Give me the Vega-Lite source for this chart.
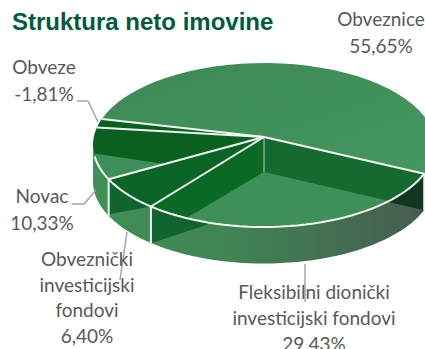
{
"$schema":"https://vega.github.io/schema/vega-lite/v6.json",
"width":425,"height":349,"padding":0,"autosize":"none","background":"white",
"title":{"text":"Struktura neto imovine","anchor":"start","frame":"group","orient":"top","dx":12,"dy":35,"offset":0,"font":"Liberation Sans","fontSize":24,"fontWeight":"bold","color":"#005c3c"},
"config":{"view":{"stroke":null}},
"data":{"values":[
{"slice":"Fleksibilni dionički investicijski fondovi","key":"F","share":29.43,"label":"Fleksibilni dionički\ninvesticijski fondovi\n29,43%"},
{"slice":"Obveznički investicijski fondovi","key":"O","share":6.40,"label":"Obveznički\ninvesticijski\nfondovi\n6,40%"},
{"slice":"Novac","key":"N","share":10.33,"label":"Novac\n10,33%"},
{"slice":"Obveze","key":"L","share":-1.81,"label":"Obveze\n-1,81%"},
{"slice":"Obveznice","key":"B","share":55.65,"label":"Obveznice\n55,65%"}
]},
"transform":[
{"calculate":"abs(datum.share)","as":"size"},
{"joinaggregate":[{"op":"sum","field":"size","as":"total"}]},
{"window":[{"op":"sum","field":"size","as":"cum"}]},
{"calculate":"20+360*(datum.cum-datum.size)/datum.total","as":"phiA"},
{"calculate":"20+360*datum.cum/datum.total","as":"phiB"},
{"calculate":"datum.phiA+6-5.9*cos(datum.phiA*PI/180)","as":"tA"},
{"calculate":"datum.phiB+6-5.9*cos(datum.phiB*PI/180)","as":"tB"},
{"calculate":"sequence(-1,42)","as":"i"},
{"flatten":["i"]},
{"calculate":"datum.tA+(datum.tB-datum.tA)*clamp(datum.i,0,40)/40","as":"tv"},
{"calculate":"datum.i<0||datum.i>40?264:264+171*cos(datum.tv*PI/180)","as":"px"},
{"calculate":"datum.i<0||datum.i>40?137:145+82*sin(datum.tv*PI/180)","as":"py"},
{"calculate":"datum.py+36.5","as":"py2"}
],
"encoding":{
"x":{"field":"px","type":"quantitative","axis":null,"scale":{"domain":[0,425],"nice":false,"zero":false}},
"y":{"field":"py","type":"quantitative","axis":null,"scale":{"domain":[349,0],"nice":false,"zero":false}}
},
"layer":[
{"transform":[{"filter":"datum.key!='B'&&datum.key!='L'&&datum.i>=0&&datum.i<=40&&datum.tv<=180"}],
 "mark":{"type":"area","clip":true,"fill":{"gradient":"linear","x1":0,"x2":1,"y1":0,"y2":0,"stops":[{"offset":0,"color":"#3f8f58"},{"offset":0.4,"color":"#3f8555"},{"offset":1,"color":"#465c4f"}]}},
 "encoding":{"y2":{"field":"py2"}}},
{"transform":[{"filter":"datum.key=='F'&&datum.i<=0"}],
 "mark":{"type":"area","clip":true,"fill":"#10371f"},
 "encoding":{"y2":{"field":"py2"}}},
{"transform":[{"filter":"datum.key=='O'&&datum.i>=0&&datum.i<=40"},{"calculate":"214+(datum.px-110)*(-7/38)","as":"dy2"}],
 "mark":{"type":"area","clip":true,"fill":"#0f6430"},"encoding":{"y2":{"field":"dy2"}}},
{"transform":[{"filter":"datum.key=='F'&&datum.i>=0&&datum.i<=40&&datum.px<=215"},{"calculate":"243+(datum.px-152)*(-21/63)","as":"dy2"}],
 "mark":{"type":"area","clip":true,"fill":"#0f6430"},"encoding":{"y2":{"field":"dy2"}}},
{"transform":[{"filter":"datum.key=='B'"}],"mark":{"type":"line","clip":true,"strokeWidth":0,"fill":{"gradient":"linear","x1":0,"x2":1,"y1":0,"y2":1,"stops":[{"offset":0,"color":"#3b8a56"},{"offset":1,"color":"#46965f"}]}},"encoding":{"order":{"field":"i"}}},
{"transform":[{"filter":"datum.key=='F'"}],"mark":{"type":"line","clip":true,"strokeWidth":0,"fill":"#146a2f"},"encoding":{"order":{"field":"i"}}},
{"transform":[{"filter":"datum.key=='O'"}],"mark":{"type":"line","clip":true,"strokeWidth":0,"fill":"#0a6426"},"encoding":{"order":{"field":"i"}}},
{"transform":[{"filter":"datum.key=='N'||datum.key=='L'"}],"mark":{"type":"line","clip":true,"strokeWidth":0,"fill":"#09601f"},"encoding":{"order":{"field":"i"},"detail":{"field":"key"}}},
{"transform":[{"filter":"datum.key=='F'"},
 {"calculate":"(117+(datum.tB-117)*clamp(datum.i,0,40)/40)*PI/180","as":"tf"},
 {"calculate":"datum.i<0||datum.i>40?264:264+171*cos(datum.tf)","as":"fx"},
 {"calculate":"datum.i<0?172:datum.i>40?137:145+82*sin(datum.tf)","as":"fy"}],
 "mark":{"type":"line","clip":true,"strokeWidth":0,"fill":"#0a6a25"},
 "encoding":{"x":{"field":"fx","type":"quantitative"},"y":{"field":"fy","type":"quantitative"},"order":{"field":"i"}}},
{"transform":[{"filter":"datum.key=='F'"},
 {"calculate":"(43+(117-43)*clamp(datum.i,0,40)/40)*PI/180","as":"tf"},
 {"calculate":"datum.i<0||datum.i>40?264:264+171*cos(datum.tf)","as":"fx"},
 {"calculate":"datum.i<0||datum.i>40?172:145+82*sin(datum.tf)","as":"fy"}],
 "mark":{"type":"line","clip":true,"strokeWidth":0,"fill":"#3f9058"},
 "encoding":{"x":{"field":"fx","type":"quantitative"},"y":{"field":"fy","type":"quantitative"},"order":{"field":"i"}}},
{"transform":[{"filter":"datum.key=='N'"},
 {"calculate":"(155+(174-155)*clamp(datum.i,0,40)/40)*PI/180","as":"tf"},
 {"calculate":"datum.i<0||datum.i>40?165:264+171*cos(datum.tf)","as":"fx"},
 {"calculate":"datum.i<0||datum.i>40?164:145+82*sin(datum.tf)","as":"fy"}],
 "mark":{"type":"line","clip":true,"strokeWidth":0,"fill":"#3f9058"},
 "encoding":{"x":{"field":"fx","type":"quantitative"},"y":{"field":"fy","type":"quantitative"},"order":{"field":"i"}}},
{"transform":[{"filter":"datum.key=='F'&&datum.i==0"}],"mark":{"type":"rule","stroke":"#b9d2bf","strokeWidth":1},"encoding":{"x":{"datum":264},"y":{"datum":137},"y2":{"datum":172}}},
{"transform":[{"filter":"datum.i>=-1&&datum.i<=0"}],"mark":{"type":"line","clip":true,"stroke":"#f4f8f4","strokeWidth":2},"encoding":{"detail":{"field":"key"},"order":{"field":"i"}}},
{"transform":[{"filter":"datum.key!='B'&&datum.key!='L'&&datum.i>=0&&datum.i<=40&&datum.tv<=172"}],"mark":{"type":"line","clip":true,"stroke":"#f4f8f4","strokeWidth":2},"encoding":{"order":{"field":"tv"}}},
{"transform":[{"filter":"datum.key!='B'&&datum.key!='L'&&datum.i==0"}],"mark":{"type":"rule","clip":true,"stroke":"#f0f4f0","strokeWidth":2},"encoding":{"y2":{"field":"py2"}}},
{"transform":[{"filter":"datum.key=='B'&&datum.i==0"}],"mark":{"type":"rule","stroke":"#a6a6a6","strokeWidth":1.5},"encoding":{"x":{"datum":77},"y":{"datum":101},"x2":{"datum":88},"y2":{"datum":101}}},
{"transform":[{"filter":"datum.key=='B'&&datum.i==0"}],"mark":{"type":"rule","stroke":"#a6a6a6","strokeWidth":1.5},"encoding":{"x":{"datum":88},"y":{"datum":101},"x2":{"datum":98},"y2":{"datum":122}}},
{"transform":[{"filter":"datum.key=='B'&&datum.i==0"}],"mark":{"type":"rule","stroke":"#a6a6a6","strokeWidth":1.5},"encoding":{"x":{"datum":72},"y":{"datum":204},"x2":{"datum":84},"y2":{"datum":204}}},
{"transform":[{"filter":"datum.key=='B'&&datum.i==0"}],"mark":{"type":"rule","stroke":"#a6a6a6","strokeWidth":1.5},"encoding":{"x":{"datum":84},"y":{"datum":204},"x2":{"datum":96},"y2":{"datum":190}}},
{"transform":[{"filter":"datum.key=='B'&&datum.i==0"}],"mark":{"type":"rule","stroke":"#a6a6a6","strokeWidth":1.5},"encoding":{"x":{"datum":127},"y":{"datum":232},"x2":{"datum":120},"y2":{"datum":280}}},
{"transform":[{"filter":"datum.key=='B'&&datum.i==0"}],"mark":{"type":"rule","stroke":"#a6a6a6","strokeWidth":1.5},"encoding":{"x":{"datum":305},"y":{"datum":264},"x2":{"datum":305},"y2":{"datum":302}}},
{"transform":[{"filter":"datum.key=='B'&&datum.i==0"}],"mark":{"type":"text","font":"Lato","fontSize":19,"color":"#595959","lineBreak":"\n","lineHeight":26.5,"baseline":"middle"},"encoding":{"text":{"field":"label"},"x":{"datum":381},"y":{"datum":20}}},
{"transform":[{"filter":"datum.key=='L'&&datum.i==0"}],"mark":{"type":"text","font":"Lato","fontSize":19,"color":"#595959","lineBreak":"\n","lineHeight":26.5,"baseline":"middle"},"encoding":{"text":{"field":"label"},"x":{"datum":44},"y":{"datum":68}}},
{"transform":[{"filter":"datum.key=='N'&&datum.i==0"}],"mark":{"type":"text","font":"Lato","fontSize":19,"color":"#595959","lineBreak":"\n","lineHeight":26.5,"baseline":"middle"},"encoding":{"text":{"field":"label"},"x":{"datum":42},"y":{"datum":197}}},
{"transform":[{"filter":"datum.key=='O'&&datum.i==0"}],"mark":{"type":"text","font":"Lato","fontSize":19,"color":"#595959","lineBreak":"\n","lineHeight":25.7,"baseline":"middle"},"encoding":{"text":{"field":"label"},"x":{"datum":87},"y":{"datum":260}}},
{"transform":[{"filter":"datum.key=='F'&&datum.i==0"}],"mark":{"type":"text","font":"Lato","fontSize":19,"color":"#595959","lineBreak":"\n","lineHeight":26,"baseline":"middle"},"encoding":{"text":{"field":"label"},"x":{"datum":314},"y":{"datum":293}}}
]
}
